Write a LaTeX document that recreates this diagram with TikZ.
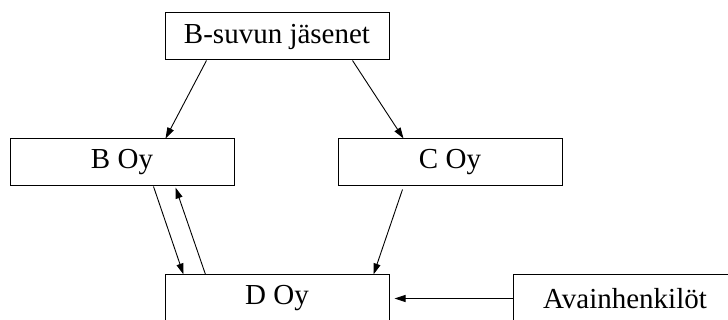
\documentclass[tikz,border=0pt]{standalone}
\usepackage{fontspec}
\setmainfont{Liberation Serif}
\usetikzlibrary{arrows.meta}
\begin{document}
\begin{tikzpicture}[x=1pt,y=-1pt,
  box/.style={draw,line width=1pt,minimum width=224pt,minimum height=47pt,
    inner sep=0pt,font=\fontsize{29}{32}\selectfont},
  link/.style={line width=0.9pt,-{Triangle[length=11pt,width=7pt]}}]
\useasboundingbox (0,0) rectangle (728,320);
% boxes
\node[box] (suku) at (277,36.5) {B-suvun jäsenet};
\node[box] (boy) at (122,162.5) {B Oy};
\node[box] (coy) at (450,162.5) {C Oy};
\node[box] (doy) at (277,298.5) {D Oy};
\node[box] (avain) at (625,298.5) {Avainhenkilöt};
% connectors
\draw[link] ([xshift=42pt]suku.south west) -- ([xshift=156pt]boy.north west);
\draw[link] ([xshift=188pt]suku.south west) -- ([xshift=66pt]coy.north west);
\draw[link] ([xshift=144pt]boy.south west) -- ([xshift=19pt]doy.north west);
\draw[link] ([xshift=41pt]doy.north west) -- ([xshift=166pt,yshift=-1pt]boy.south west);
\draw[link] ([xshift=65pt,yshift=-3pt]coy.south west) -- ([xshift=209pt]doy.north west);
\draw[link] (avain.west) -- ([xshift=5pt]doy.east);
\end{tikzpicture}
\end{document}
